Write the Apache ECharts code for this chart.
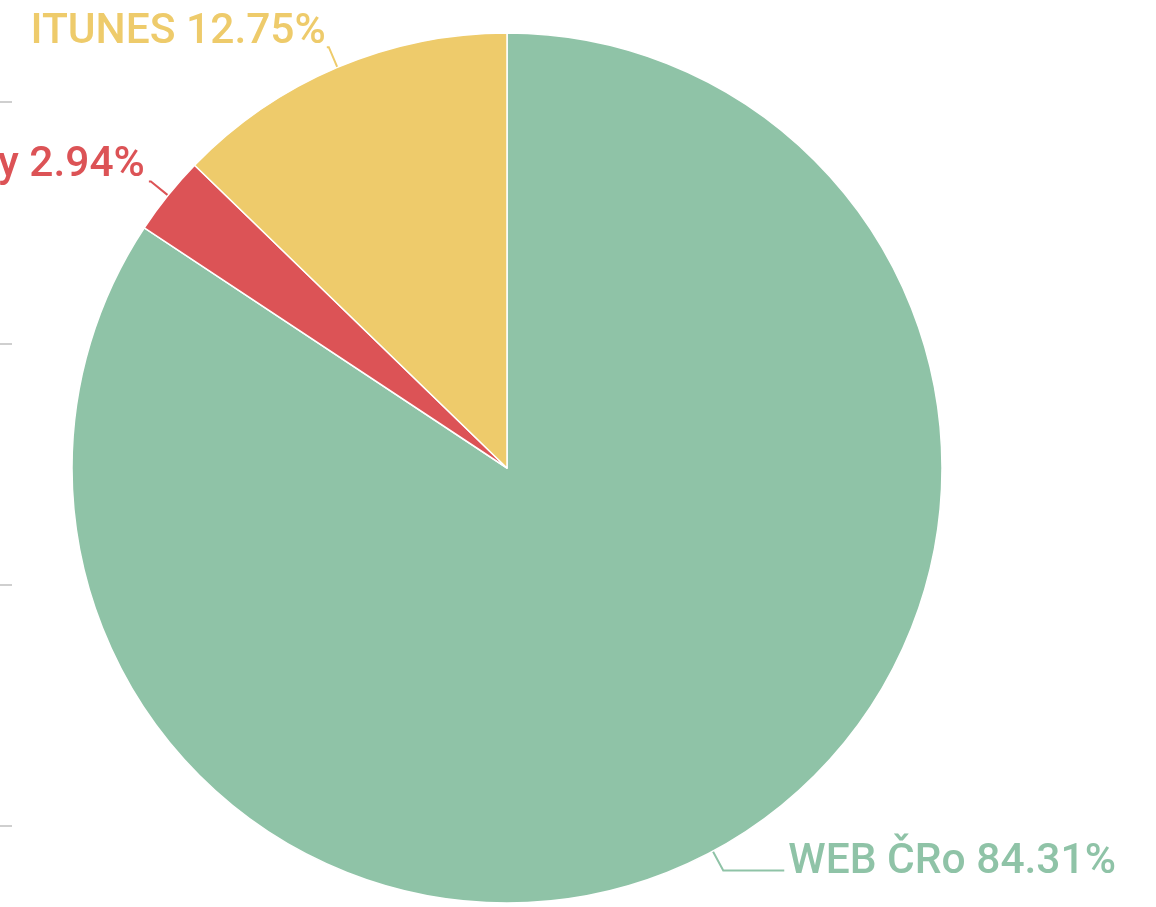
<!DOCTYPE html>
<html>
<head>
<meta charset="utf-8">
<script src="https://cdn.jsdelivr.net/npm/echarts@6/dist/echarts.min.js"></script>
<style>
  html, body { margin: 0; padding: 0; background: #fff; }
  #chart { width: 1156px; height: 907px; }
</style>
</head>
<body>
<div id="chart"></div>
<script>
var names = ['WEB ČRo', 'Spotify', 'ITUNES'];
var values = [84.31, 2.94, 12.75];
var colors = ['#8fc3a7', '#dc5356', '#eecb6b'];

// per-slice label tweaks: second line segment, text shift
var lineLen2 = [61, 2, 2];
var labelDx = [0, 0, 3];
var labelDy = [-8, -16, -15];

var chart = echarts.init(document.getElementById('chart'));

var option = {
    animation: false,
    grid: { left: 12, right: 1100, top: 102, bottom: 81 },
    xAxis: { type: 'value', show: false },
    yAxis: {
        type: 'value',
        min: 0,
        max: 3,
        interval: 1,
        axisLine: { show: false },
        axisLabel: { show: false },
        splitLine: { show: false },
        axisTick: { show: true, length: 12, lineStyle: { color: '#cfcfcf', width: 2 } }
    },
    series: [{
        type: 'pie',
        center: [507, 468],
        radius: 435,
        startAngle: 90,
        clockwise: true,
        avoidLabelOverlap: false,
        itemStyle: { borderColor: '#fff', borderWidth: 1.5 },
        label: {
            formatter: '{b} {d}%',
            fontFamily: 'Roboto',
            fontSize: 42.5,
            fontWeight: 500,
            overflow: 'none',
            distanceToLabelLine: 4
        },
        labelLine: { length: 22, length2: 2, lineStyle: { width: 2 } },
        labelLayout: function (params) {
            return { dx: labelDx[params.dataIndex], dy: labelDy[params.dataIndex] };
        },
        data: names.map(function (n, i) {
            return {
                name: n,
                value: values[i],
                itemStyle: { color: colors[i] },
                label: { color: colors[i] },
                labelLine: { length2: lineLen2[i] }
            };
        })
    }]
};
chart.setOption(option);
</script>
</body>
</html>
